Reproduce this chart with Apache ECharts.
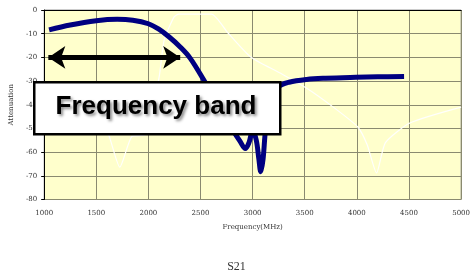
<!DOCTYPE html>
<html>
<head>
<meta charset="utf-8">
<script src="https://cdn.jsdelivr.net/npm/echarts@6/dist/echarts.min.js"></script>
<style>
  html, body { margin: 0; padding: 0; background: #fff; }
  #main { width: 473px; height: 277px; }
</style>
</head>
<body>
<div id="main"></div>
<script>
  var dom = document.getElementById('main');
  var myChart = echarts.init(dom, null, { renderer: 'canvas' });

  // S21 response, thick blue curve
  var s21Freq = [1047, 1250, 1500, 1700, 1850, 2000, 2100, 2200, 2300, 2400, 2530, 2650, 2800, 2880, 2930, 2965, 3000, 3035, 3060, 3078, 3100, 3125, 3170, 3245, 3350, 3518, 3700, 3990, 4200, 4453];
  var s21Db = [-8.4, -6.3, -4.5, -3.9, -4.3, -5.8, -8.1, -11.4, -15.4, -20.3, -29.5, -39, -50, -55.5, -58.5, -56, -51, -55, -63, -68.3, -63, -50, -38, -32.5, -30.5, -29.3, -28.8, -28.4, -28.2, -28.1];

  // thin white curve
  var refFreq = [1500, 1613, 1726, 1840, 1981, 2104, 2151, 2245, 2292, 2604, 2764, 2981, 3264, 3519, 3774, 4009, 4100, 4189, 4274, 4509, 5000];
  var refDb = [-45, -52, -66.3, -53.5, -52.5, -28, -12.7, -3, -1.7, -1.7, -9.7, -19.8, -26.6, -33, -41, -49.4, -57, -68.8, -56, -47.7, -41];

  // frequency band arrow
  var bandStart = 1040;
  var bandEnd = 2305;
  var bandLevel = -20;

  var xTicks = [1000, 5000, 500];
  var yTicks = [-80, 0, 10];

  function pairs(xs, ys) {
    var out = [];
    for (var i = 0; i < xs.length; i++) out.push([xs[i], ys[i]]);
    return out;
  }

  var labelFont = { fontFamily: 'DejaVu Serif, Liberation Serif, serif', fontSize: 7, color: '#333' };

  var option = {
    animation: false,
    title: {
      text: 'S21',
      left: 'center',
      top: 256,
      textStyle: { fontFamily: 'Liberation Serif, serif', fontSize: 12, fontWeight: 'normal', color: '#333' }
    },
    grid: {
      left: 43, right: 6, top: 10, bottom: 77.5,
      show: true,
      backgroundColor: '#ffffcc',
      borderColor: '#999999',
      borderWidth: 1
    },
    xAxis: {
      type: 'value',
      min: xTicks[0], max: xTicks[1], interval: xTicks[2],
      name: 'Frequency(MHz)',
      nameLocation: 'middle',
      nameGap: 24,
      nameTextStyle: labelFont,
      axisLine: { show: true, lineStyle: { color: '#000', width: 1 } },
      axisTick: { show: false },
      axisLabel: Object.assign({ margin: 10, formatter: function (v) { return String(v); } }, labelFont),
      splitLine: { show: true, lineStyle: { color: '#8a8a70', width: 1 } }
    },
    yAxis: {
      type: 'value',
      min: yTicks[0], max: yTicks[1], interval: yTicks[2],
      name: 'Attenuation',
      nameLocation: 'middle',
      nameGap: 23,
      nameRotate: 90,
      nameTextStyle: labelFont,
      axisLine: { show: true, lineStyle: { color: '#000', width: 1 } },
      axisTick: { show: true, inside: false, length: 3, lineStyle: { color: '#000' } },
      axisLabel: Object.assign({ margin: 7 }, labelFont),
      splitLine: { show: true, lineStyle: { color: '#8a8a70', width: 1 } }
    },
    series: [
      {
        type: 'line',
        data: pairs(refFreq, refDb),
        showSymbol: false,
        smooth: 0.2,
        lineStyle: { color: 'rgba(255,255,255,0.95)', width: 1.2 },
        z: 2
      },
      {
        type: 'line',
        data: pairs(s21Freq, s21Db),
        showSymbol: false,
        smooth: 0.35,
        lineStyle: { color: '#000080', width: 5, join: 'round', cap: 'butt' },
        z: 3,
        markLine: {
          silent: true,
          symbol: ['arrow', 'arrow'],
          symbolSize: [17, 17],
          label: { show: false },
          lineStyle: { color: '#000', width: 5, type: 'solid' },
          data: [[{ coord: [bandStart, bandLevel] }, { coord: [bandEnd, bandLevel] }]]
        }
      }
    ],
    graphic: [
      {
        type: 'rect',
        left: 33, top: 81,
        shape: { width: 246, height: 52 },
        style: { fill: '#fff', stroke: '#000', lineWidth: 2.5 },
        z: 100
      },
      {
        type: 'text',
        x: 156, y: 107,
        style: {
          text: 'Frequency band',
          align: 'center',
          verticalAlign: 'middle',
          fontFamily: 'Liberation Sans, Arial, sans-serif',
          fontWeight: 'bold',
          fontSize: 26,
          fill: '#000',
          textShadowColor: 'rgba(0,0,0,0.45)',
          textShadowBlur: 3,
          textShadowOffsetX: 2,
          textShadowOffsetY: 2
        },
        z: 101
      }
    ]
  };

  myChart.setOption(option);
</script>
</body>
</html>
